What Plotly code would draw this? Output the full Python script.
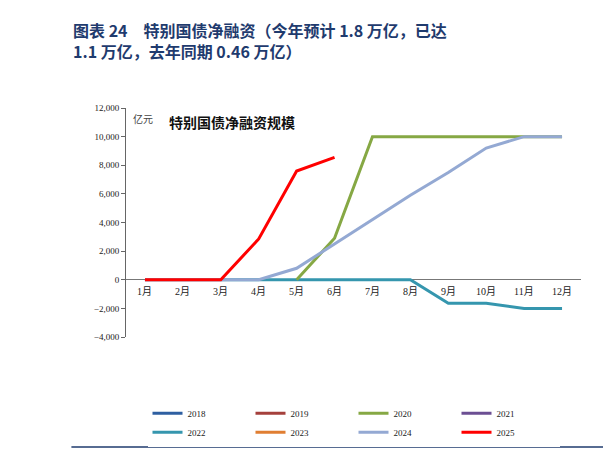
import plotly.graph_objects as go

months = [f"{i}月" for i in range(1, 13)]
s2018 = [None]*12
s2019 = [None]*12
s2021 = [None]*12
s2023 = [None]*12
s2020 = [None, None, None, None, 0, 2900, 10000, 10000, 10000, 10000, 10000, 10000]
s2022 = [0, 0, 0, 0, 0, 0, 0, 0, -1650, -1650, -2000, -2000]
s2024 = [0, 0, 0, 0, 800, 2500, 4200, 5900, 7500, 9200, 10000, 10000]
s2025 = [0, 0, 0, 2850, 7600, 8550, None, None, None, None, None, None]

series = [("2018", s2018, "#2E5FA1"), ("2019", s2019, "#A5403C"), ("2020", s2020, "#86A844"),
          ("2021", s2021, "#6C4F93"), ("2022", s2022, "#3596AE"), ("2023", s2023, "#E07E32"),
          ("2024", s2024, "#94A9D3"), ("2025", s2025, "#FF0000")]
order = ["2018", "2019", "2021", "2023", "2022", "2020", "2024", "2025"]
d = {n: (v, c) for n, v, c in series}
fig = go.Figure()
for n in order:
    v, c = d[n]
    fig.add_trace(go.Scatter(x=list(range(12)), y=v, name=n, mode="lines",
                             line=dict(color=c, width=3), legendrank=int(n)))

fig.update_layout(
    width=611, height=451, plot_bgcolor="white", paper_bgcolor="white",
    margin=dict(l=118, r=38, t=100, b=96),
    font=dict(family="Liberation Serif, Noto Sans CJK SC", size=10, color="#222"),
    showlegend=True,
    legend=dict(orientation="h", x=0.5, xanchor="center", y=-0.27, yanchor="top",
                font=dict(size=9), traceorder="normal", itemwidth=30, entrywidth=58,
                tracegroupgap=0),
    xaxis=dict(range=[-0.5, 11.5], showticklabels=False, showline=False, ticks="", showgrid=False, zeroline=False),
    yaxis=dict(range=[-4000, 12000], dtick=2000, tickformat=",", showgrid=False,
               showline=True, linecolor="#666", ticks="outside", ticklen=4, tickcolor="#666",
               zeroline=True, zerolinecolor="#777", zerolinewidth=1, tickfont=dict(size=9)),
)
for i, m in enumerate(months):
    fig.add_annotation(x=i, y=0, yshift=-12, text=m, showarrow=False, font=dict(size=10))
fig.add_annotation(xref="paper", yref="paper", x=0.01, y=0.985, xanchor="left", yanchor="top",
                   text="亿元", showarrow=False, font=dict(size=10, color="#444"))
fig.add_annotation(xref="paper", yref="paper", x=0.09, y=0.99, xanchor="left", yanchor="top",
                   text="<b>特别国债净融资规模</b>", showarrow=False,
                   font=dict(size=14, family="Noto Sans CJK SC", color="#111"))
fig.add_annotation(xref="paper", yref="paper", x=-0.12, y=1.0, xanchor="left", yanchor="top",
                   yshift=92, text="<b>图表 24　特别国债净融资（今年预计 1.8 万亿，已达<br>1.1 万亿，去年同期 0.46 万亿）</b>",
                   showarrow=False, align="left",
                   font=dict(size=16, family="Noto Sans CJK SC", color="#1F3B6E"))
fig.add_shape(type="line", xref="paper", yref="paper", x0=-0.12, x1=1.08, y0=-0.48, y1=-0.48,
              line=dict(color="#1F3B6E", width=1.5))
fig.add_annotation(xref="paper", yref="paper", x=-0.12, y=-0.5, xanchor="left", yanchor="top",
                   text="<i>资料来源：Wind，华创证券</i>", showarrow=False,
                   font=dict(size=13, color="#1F3B6E"))
fig.write_html("out.html")
